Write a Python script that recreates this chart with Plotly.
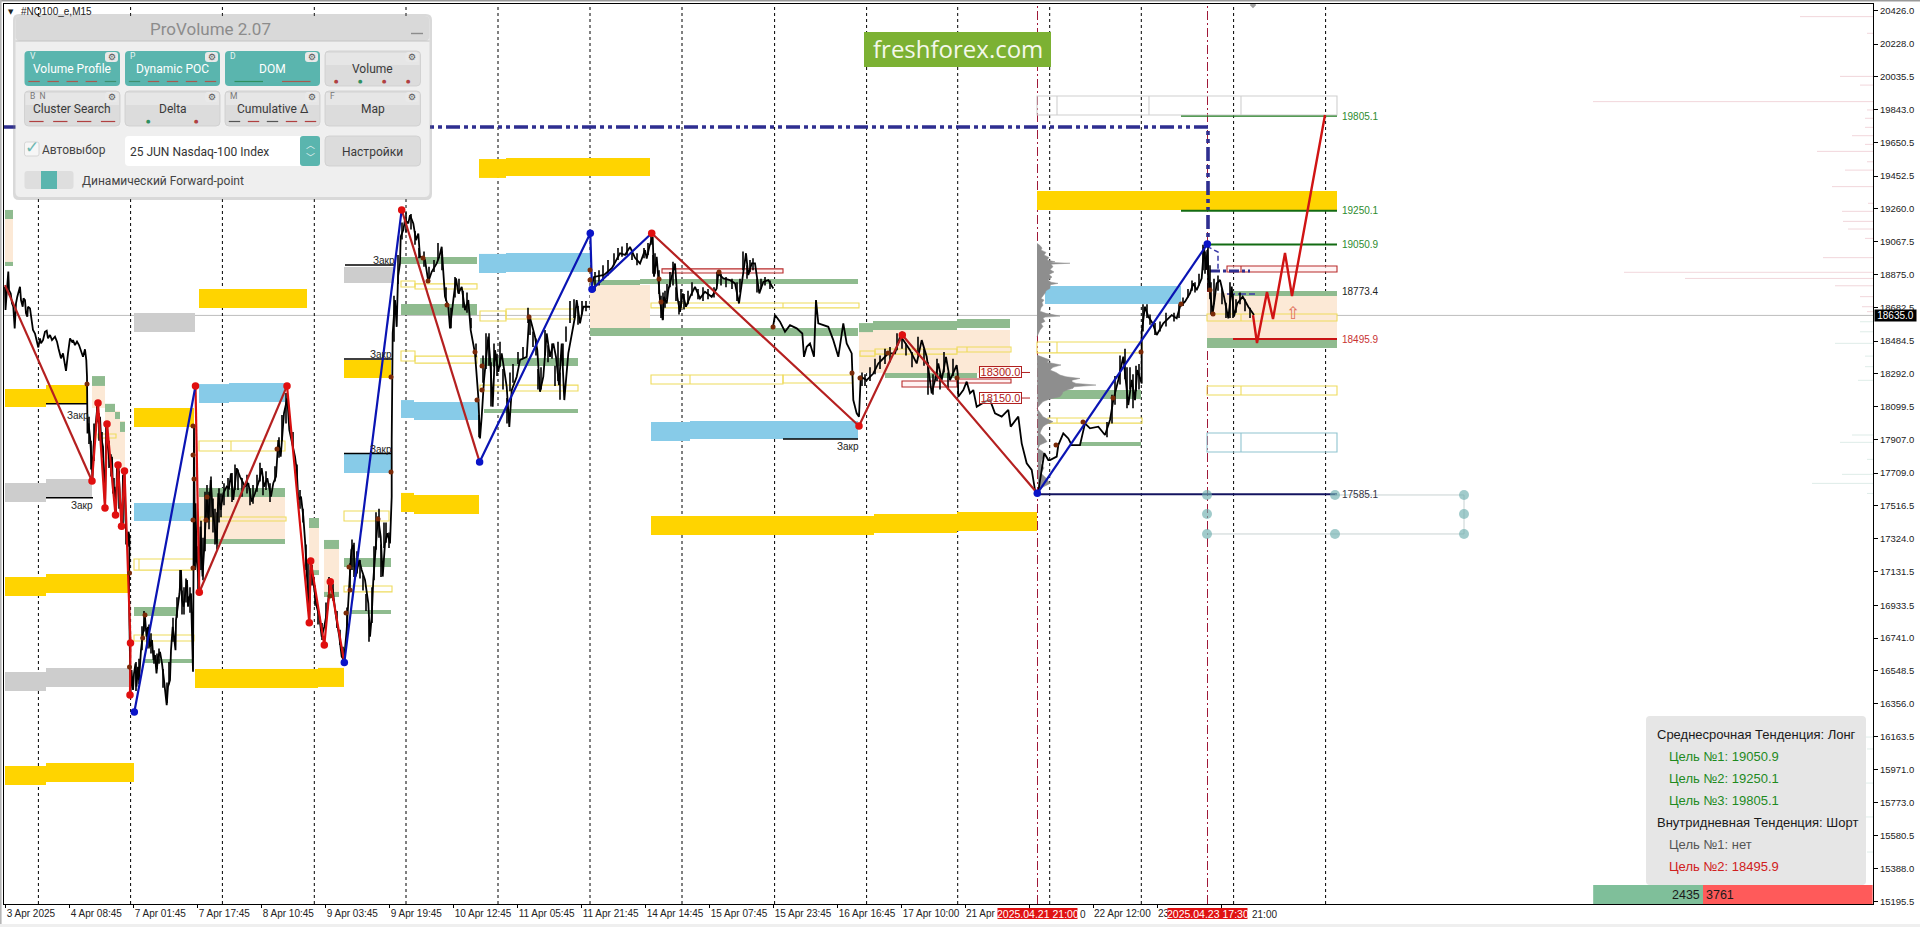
import plotly.graph_objects as go

W, H = 1920, 927
LEFT, RIGHT, TOP, BOTTOM = 4, 1873, 4, 904

# ---------- axes ----------
price_ticks = [20426.0, 20228.0, 20035.5, 19843.0, 19650.5, 19452.5, 19260.0, 19067.5, 18875.0, 18682.5,
               18484.5, 18292.0, 18099.5, 17907.0, 17709.0, 17516.5, 17324.0, 17131.5, 16933.5, 16741.0,
               16548.5, 16356.0, 16163.5, 15971.0, 15773.0, 15580.5, 15388.0, 15195.5]
price_min, price_max = 15180, 20463
time_pos = [5.7, 69.7, 133.7, 197.7, 261.7, 325.7, 389.7, 453.7, 517.7, 581.7, 645.7, 709.7, 773.7, 837.7,
            901.7, 965, 1029, 1093, 1157, 1221]
time_labels = ["3 Apr 2025", "4 Apr 08:45", "7 Apr 01:45", "7 Apr 17:45", "8 Apr 10:45", "9 Apr 03:45",
               "9 Apr 19:45", "10 Apr 12:45", "11 Apr 05:45", "11 Apr 21:45", "14 Apr 14:45", "15 Apr 07:45",
               "15 Apr 23:45", "16 Apr 16:45", "17 Apr 10:00", "21 Apr", "", "22 Apr 12:00", "23", ""]
day_lines = [38.4, 130.6, 222.4, 314.3, 406, 498, 590, 682, 774.6, 866.6, 957.7, 1049.7, 1141.3, 1233.6, 1325.6]
session_lines = [1037.5, 1207.5]
red_times = ["2025.04.21 21:00", "2025.04.23 17:30"]
last_price = 18635.0

# ---------- price line ----------
price_x = [5, 5.5, 8.3, 9, 10.7, 12, 13.3, 14.7, 16, 17.3, 20, 21, 22.7, 23.5, 25, 26, 27.3, 28, 30, 31.7, 33, 35, 36,
           38.3, 40, 41, 43, 45, 46.7, 48, 50, 52, 55, 57, 58.5, 60, 61, 63, 66, 68, 70, 72, 73, 75, 77, 79, 81, 83,
           85, 86.3, 87, 87.5, 88.5, 90, 91.5, 92.5, 93.5, 95, 96, 97.7, 98.5, 100, 101, 103, 104, 105, 105.5, 107,
           108, 110, 112, 113, 114.5, 116, 117, 118.5, 120, 121, 122, 123, 124.5, 125.5, 126.5, 127.5, 128.5, 129.5,
           129, 130, 130.5, 131.5, 133, 134, 135.5, 136.5, 138, 139, 141, 143, 145, 146.5, 148, 150, 152, 153.5,
           155, 156.5, 158, 160, 162, 164, 165.5, 166.7, 168, 170, 171, 172.7, 174, 175.5, 176, 178, 179.5, 181,
           182, 183.5, 185, 187, 188, 189.5, 191, 192, 193, 193.5, 194, 195, 195.5, 196.7, 199, 200.5, 202.5, 204.5,
           206.7, 208.5, 210.7, 212.7, 214.7, 216.7, 218.3, 220.7, 223.3, 226.7, 229, 231, 233.3, 236.7, 240, 245,
           248.3, 251.7, 255, 259.3, 261.7, 264, 267.3, 271, 273.3, 276, 278.3, 280.7, 284, 287.3, 289.3, 292, 295,
           296.7, 298.3, 301, 303.3, 305, 306.7, 309.3, 310.7, 313.3, 316.7, 319.3, 321.7, 324.3, 327.3, 330, 332.7,
           336, 339.3, 341.7, 344, 346.7, 349.3, 351.3, 353.3, 355.7, 359.3, 361.7, 365, 368.3, 370, 371.7, 373.3,
           375.7, 378, 380.7, 382.7, 385, 387.3, 390, 391.7, 391.7, 392.7, 395, 396.7, 398, 400, 400.7, 403.3, 405,
           408.3, 410, 413.3, 416, 418.3, 420, 423.3, 425, 428.3, 431.7, 436.7, 439.3, 441.7, 443.3, 445, 448.3, 450,
           453.3, 456, 458.3, 461.7, 465, 468.3, 470.7, 475, 478.3, 480, 481.7, 484, 488.3, 490, 492.7, 495, 498.3,
           501.7, 506.7, 509.3, 511.7, 516.7, 520, 526.7, 529.3, 531.7, 535, 537.3, 540, 543.3, 546.7, 550, 553.3,
           556, 559, 561.7, 564.3, 568.3, 571.7, 575, 576.7, 580, 583.3, 590, None,
           592, 594, 604, 612, 620, 625, 630, 635, 640, 642.7, 645, 646.7, 649.3, 652.7, 654, 656.7, 658.3, 660,
           662.7, 664, 666.7, 668.3, 671.7, 675, 677.3, 680, 682.7, 686, 690, 695, 700, 705, 711.7, 716.7, 718.3,
           723.3, 730, 735, 739, 741.7, 746, 748.3, 751.7, 755, 759.3, 763.3, 768.3, 773.3, None,
           773, 775, 780, 785, 790, 796.7, 802.3, 804, 806.7, 810, 814, 816, 818.3, 823.3, 828.3, 833.3, 838.3, 843.3,
           846.7, 851.7, 853.3, 856.7, 859, 860.7, 866.7, 873.3, 878.3, 883.3, 888.3, 895, 900, 903.3, 910, 916.7,
           921.7, 926.7, 931.7, 935, 938.3, 941.7, 946, 950, 956.7, 957.7, 958.3, 963.3, 966.7, 970, 973.3, 976.7,
           985, 990, 995, 1001.7, 1008.3, 1010.7, 1018.3, 1021.7, 1026.7, 1031.7, 1035, 1038.3, 1041.7, 1044.3, 1048.3,
           1050, 1056.7, 1058.3, 1063.3, 1068.3, 1071.7, 1080, 1085, 1090, 1098.3, 1105, 1110, 1113.3, 1118.3, 1123.3,
           1128.3, 1131.7, 1135, 1137.3, 1141.7, 1141.7, 1145, 1148.3, 1152.7, 1156.7, 1163.3, 1171.7, 1176.7, 1180,
           1185, 1190, 1193.3, 1196.7, 1201.7, 1204, 1206, 1207.3, 1209.3, 1212.7, 1216.7, 1220, 1224, 1228.3, 1231.7,
           1234, 1237.3, 1242.7, 1248.3, 1254]
price_y = [18804, 18667, 18892, 18784, 18764, 18706, 18686, 18559, 18706, 18745, 18803, 18725, 18686, 18735, 18725, 18647,
           18627, 18686, 18676, 18598, 18549, 18529, 18500, 18447, 18500, 18471, 18490, 18539, 18545, 18500, 18520, 18490,
           18510, 18481, 18441, 18412, 18383, 18412, 18310, 18412, 18500, 18481, 18490, 18461, 18481, 18461, 18422, 18392,
           18436, 18373, 18275, 17942, 18001, 17923, 17786, 17678, 17864, 17962, 18021, 18119, 18001, 18040, 17923, 17864,
           17688, 17512, 17708, 18001, 17864, 17747, 17805, 17590, 17629, 17463, 17747, 17757, 17551, 17434, 17395, 17688,
           17708, 17434, 17316, 17277, 17365, 17336, 17003, 16533, 16416, 16553, 16436, 16533, 16592, 16455, 16572, 16494,
           16670, 16768, 16866, 16749, 16807, 16690, 16729, 16612, 16641, 16533, 16631, 16660, 16592, 16494, 16416, 16347,
           16455, 16494, 16670, 16807, 16749, 16670, 16847, 16944, 17003, 17140, 16964, 16925, 17003, 17081, 16925, 16984,
           17003, 16768, 16543, 17120, 17982, 17141, 17532, 17199, 17062, 17395, 17102, 17297, 17571, 17434, 17669, 17493,
           17395, 17297, 17591, 17493, 17591, 17630, 17620, 17708, 17552, 17738, 17689, 17630, 17650, 17542, 17591, 17669,
           17738, 17630, 17679, 17571, 17650, 17689, 17904, 17806, 18061, 18149, 17963, 17884, 17806, 17728, 17552, 17571,
           17454, 17317, 17121, 16847, 17180, 17062, 16926, 16867, 16749, 16808, 16906, 17062, 17023, 16867, 16749, 16632,
           16612, 16789, 17023, 17258, 17288, 17102, 17200, 17141, 17082, 16945, 16749, 16867, 17082, 17297, 17454, 17336,
           17102, 17297, 17356, 17297, 17571, 17903, 18530, 18725, 18568, 18862, 18940, 19097, 19136, 19195, 19175, 19224,
           19175, 19077, 19116, 18979, 18979, 18960, 18833, 18891, 18940, 18979, 19038, 18891, 18745, 18686, 18559, 18725,
           18852, 18764, 18803, 18666, 18725, 18549, 18412, 18157, 17913, 18040, 18255, 18510, 18392, 18099, 18431, 18304,
           18412, 18216, 17981, 18196, 18275, 18373, 18392, 18637, 18588, 18510, 18431, 18187, 18275, 18529, 18392, 18470,
           18392, 18226, 18470, 18138, 18412, 18529, 18627, 18725, 18588, 18686, 18686, None,
           18814, 18861, 18873, 18913, 19000, 18990, 19037, 18973, 18940, 18989, 19018, 18969, 19038, 19097, 18862, 18979,
           18842, 18725, 18607, 18744, 18705, 18784, 18862, 18940, 18744, 18656, 18764, 18686, 18744, 18803, 18735, 18774,
           18744, 18793, 18881, 18852, 18842, 18823, 18705, 18823, 19000, 18872, 18940, 18940, 18764, 18832, 18842, 18793, None,
           18568, 18637, 18598, 18539, 18578, 18559, 18529, 18392, 18451, 18470, 18392, 18725, 18588, 18578, 18568, 18490,
           18392, 18588, 18470, 18412, 18138, 18060, 18040, 18275, 18255, 18294, 18353, 18382, 18412, 18412, 18510, 18490,
           18431, 18353, 18490, 18392, 18177, 18255, 18353, 18255, 18392, 18255, 18343, 18295, 18158, 18197, 18246, 18178,
           18197, 18099, 18129, 18139, 18060, 18041, 18080, 17982, 18041, 17884, 17767, 17728, 17610, 17600, 17728, 17826,
           17786, 17786, 17806, 17874, 17943, 17913, 17874, 17874, 18001, 17972, 17982, 17933, 18021, 18138, 18256, 18393,
           18109, 18256, 18138, 18314, 18236, 18539, 18686, 18628, 18588, 18520, 18588, 18637, 18618, 18686, 18716, 18765,
           18823, 18784, 18853, 19038, 18902, 19019, 18804, 18647, 18823, 18843, 18745, 18618, 18804, 18628, 18706, 18745,
           18686, 18637]

# bar ranges (low / high) read along the noisy stretches of the price
wick_x_a = [89, 91, 94, 97, 99, 102, 106, 109, 111, 114, 119, 123, 126]
wick_lo_a = [17880, 17730, 17780, 18010, 17900, 17800, 17760, 17740, 17690, 17560, 17500, 17380, 17290]
wick_hi_a = [18040, 17900, 18000, 18130, 18060, 17950, 17990, 17900, 17820, 17680, 17720, 17700, 17420]
wick_x_b = [136, 139, 142, 144, 147, 149, 151, 154, 157, 159, 163, 167, 169, 173, 177, 180, 182, 184, 186, 190]
wick_lo_b = [16430, 16470, 16670, 16780, 16680, 16680, 16650, 16590, 16560, 16590, 16450, 16360, 16470, 16720, 16860, 17020, 16880, 16880, 16950, 16890]
wick_hi_b = [16600, 16620, 16810, 16900, 16800, 16820, 16770, 16670, 16650, 16680, 16560, 16480, 16600, 16860, 16980, 17140, 17020, 17040, 17090, 17040]
wick_x_c = [198, 201, 203, 205, 207, 209, 211, 213, 215, 217, 219, 221, 224, 228, 232, 235, 238, 242, 247, 250, 253, 257, 260, 263, 266, 270, 275, 279, 282, 286]
wick_lo_c = [17020, 17140, 17080, 17250, 17420, 17380, 17450, 17360, 17290, 17260, 17420, 17450, 17520, 17570, 17540, 17610, 17610, 17570, 17590, 17520, 17530, 17600, 17660, 17580, 17610, 17540, 17660, 17800, 17900, 18000]
wick_hi_c = [17280, 17430, 17330, 17600, 17640, 17600, 17690, 17560, 17500, 17480, 17620, 17590, 17650, 17680, 17710, 17760, 17730, 17680, 17700, 17620, 17640, 17700, 17770, 17690, 17720, 17650, 17750, 17920, 18050, 18180]
wick_x_d = [293, 297, 300, 303, 306, 308, 312, 315, 318, 322, 326, 329, 333, 337, 340, 343, 347, 350, 352, 354, 357, 360, 363, 366, 369, 372, 374, 376, 379, 381, 384, 386, 389]
wick_lo_d = [17860, 17600, 17500, 17420, 17140, 16900, 17050, 16930, 16820, 16730, 16850, 17000, 16960, 16800, 16700, 16600, 16780, 17020, 17140, 17100, 17120, 17090, 17020, 16900, 16720, 16830, 17080, 17260, 17330, 17100, 17270, 17300, 17270]
wick_hi_d = [17950, 17760, 17610, 17500, 17290, 17200, 17170, 17050, 16930, 16830, 16950, 17100, 17060, 16900, 16790, 16690, 16920, 17180, 17320, 17300, 17250, 17200, 17110, 17000, 16850, 17040, 17280, 17480, 17500, 17290, 17420, 17420, 17360]
wick_x_e = [394, 398, 402, 406, 411, 415, 419, 424, 429, 434, 438, 442, 446, 451, 455, 459, 463, 467, 471, 476, 479, 483, 486, 489, 491, 494, 497, 500, 503, 507, 510, 513, 518, 523, 528, 530, 533, 536, 538, 541, 545, 548, 552, 555, 558, 560, 563, 566, 570, 574, 578, 582, 586]
wick_lo_e = [18480, 18820, 19080, 19120, 19140, 19050, 18970, 18920, 18830, 18890, 18960, 18900, 18720, 18560, 18740, 18760, 18680, 18650, 18560, 18390, 17920, 18240, 18320, 18340, 18100, 18330, 18280, 18330, 18200, 18000, 18190, 18240, 18350, 18380, 18590, 18520, 18450, 18400, 18200, 18200, 18400, 18360, 18380, 18220, 18250, 18140, 18340, 18480, 18590, 18620, 18580, 18640, 18660]
wick_hi_e = [18750, 18990, 19180, 19240, 19230, 19130, 19030, 19010, 18920, 18960, 19060, 19010, 18800, 18680, 18860, 18850, 18780, 18770, 18620, 18470, 18050, 18400, 18530, 18530, 18360, 18470, 18410, 18480, 18320, 18150, 18300, 18350, 18420, 18450, 18680, 18610, 18540, 18500, 18320, 18330, 18550, 18460, 18470, 18340, 18480, 18300, 18470, 18570, 18720, 18730, 18690, 18720, 18720]
wick_x_f = [595, 599, 603, 608, 614, 618, 622, 627, 632, 637, 644, 648, 651, 653, 655, 659, 661, 663, 665, 667, 670, 673, 676, 679, 681, 684, 688, 692, 698, 703, 708, 714, 717, 721, 726, 732, 737, 740, 743, 747, 750, 753, 757, 761, 765, 770]
wick_lo_f = [18780, 18810, 18840, 18870, 18930, 18960, 18980, 18990, 18960, 18930, 18970, 18990, 19050, 18880, 18880, 18760, 18620, 18610, 18680, 18730, 18800, 18810, 18720, 18640, 18680, 18670, 18700, 18750, 18730, 18720, 18730, 18740, 18810, 18810, 18800, 18790, 18720, 18770, 18900, 18850, 18890, 18900, 18770, 18790, 18810, 18790]
wick_hi_f = [18890, 18900, 18930, 18960, 19000, 19030, 19040, 19060, 19020, 19000, 19030, 19060, 19110, 18990, 19000, 18900, 18750, 18770, 18780, 18820, 18890, 18950, 18800, 18720, 18790, 18760, 18780, 18830, 18790, 18800, 18790, 18800, 18890, 18880, 18860, 18850, 18830, 18850, 19010, 18930, 18960, 18970, 18850, 18850, 18860, 18840]
wick_x_g = [862, 865, 870, 875, 880, 885, 890, 897, 902, 906, 912, 918, 924, 928, 933, 937, 940, 944, 948, 953]
wick_lo_g = [18220, 18220, 18250, 18290, 18320, 18350, 18360, 18430, 18440, 18400, 18330, 18400, 18340, 18170, 18170, 18250, 18200, 18300, 18200, 18280]
wick_hi_g = [18300, 18290, 18330, 18380, 18400, 18440, 18450, 18530, 18540, 18470, 18420, 18510, 18440, 18360, 18290, 18380, 18290, 18420, 18300, 18380]
wick_x_h = [1107, 1112, 1115, 1120, 1125, 1127, 1130, 1133, 1136, 1139]
wick_lo_h = [17920, 18000, 18110, 18230, 18260, 18090, 18200, 18090, 18190, 18200]
wick_hi_h = [18010, 18170, 18280, 18400, 18440, 18330, 18330, 18290, 18340, 18350]
wick_x_i = [1143, 1147, 1150, 1155, 1160, 1166, 1174, 1179, 1183, 1188, 1192, 1195, 1199, 1203, 1205, 1208, 1210, 1211, 1214, 1218, 1222, 1226, 1230, 1233, 1236, 1240, 1245, 1250]
wick_lo_i = [18540, 18620, 18580, 18520, 18540, 18570, 18600, 18620, 18690, 18740, 18780, 18770, 18810, 18900, 18880, 18780, 18730, 18640, 18700, 18780, 18700, 18620, 18620, 18620, 18650, 18700, 18660, 18620]
wick_hi_i = [18700, 18700, 18640, 18590, 18600, 18650, 18650, 18700, 18740, 18790, 18840, 18830, 18880, 19050, 19010, 19050, 18930, 18830, 18850, 18870, 18790, 18710, 18830, 18760, 18730, 18770, 18730, 18680]

swing_dot_x = [87, 129.5, 145, 129.5, 142.7, 193, 193, 193, 194, 193, 207, 206, 277, 391, 391, 378, 349, 350, 346, 330,
               423, 428, 447, 475, 482, 482, 477, 529, 590, 590, 659, 661, 719, 773, 852, 860, 888, 957, 1056, 1083,
               1113, 1141, 1181, 1210, 1213]
swing_dot_y = [18232, 17123, 16876, 16571, 16741, 17152, 17986, 17816, 17675, 17434, 17569, 17434, 17851, 18273, 17716,
               17440, 17158, 17023, 16888, 16988, 18972, 18837, 18696, 18420, 18338, 18197, 18138, 18626, 18902, 18843,
               18849, 18714, 18890, 18567, 18297, 18268, 18414, 18268, 17874, 18009, 18150, 18420, 18702, 18784, 18643]

# ---------- zigzags ----------
dark_zig = [([5, 92], [18813, 17663]), ([199.3, 287], [17010, 18221]), ([401.7, 479.6], [19254, 17775]),
            ([651.7, 859, 902.3, 1037.3], [19117, 17986, 18520, 17591])]
bright_zig = [([92, 98, 105, 107, 115.5, 118, 121.5, 124.5, 130.5, 130], [17663, 18121, 17505, 17998, 17463, 17757, 17398, 17722, 16712, 16407]),
              ([195.5, 199.3], [18221, 17010]),
              ([287, 309.3, 310.7, 324.3, 330.3, 344.3], [18221, 16831, 17193, 16700, 17072, 16597])]
blue_zig = [([134.3, 195.5], [16307, 18221]), ([344.3, 401.7], [16597, 19254]), ([479.6, 590.3, 592, 651.7], [17775, 19117, 18788, 19117]),
            ([1037.3, 1207.3], [17591, 19054])]
red_node_x = [92, 98, 105, 107, 115.5, 118, 121.5, 124.5, 130.5, 130, 195.5, 199.3, 287, 309.3, 310.7, 324.3, 330.3, 401.7, 651.7, 859, 902.3]
red_node_y = [17663, 18121, 17505, 17998, 17463, 17757, 17398, 17722, 16712, 16407, 18221, 17010, 18221, 16831, 17193, 16700, 17072, 19254, 19117, 17986, 18520]
blue_node_x = [134.3, 344.3, 479.6, 590.3, 592, 1037.3, 1207.3]
blue_node_y = [16307, 16597, 17775, 19117, 18788, 17591, 19054]
forecast_x = [1253, 1257, 1267, 1273, 1285, 1292, 1325]
forecast_y = [18637, 18473, 18772, 18614, 19001, 18749, 19811]

# ---------- zones: x0, x1, price0, price1 ----------
gold_zones = [(5, 46, 18203, 18097), (46, 87, 18226, 18121), (5, 46, 17099, 16988), (46, 130, 17117, 17006),
              (5, 46, 15990, 15878), (46, 134, 16008, 15896), (134, 194, 18092, 17980), (195, 318, 16560, 16448),
              (318, 344, 16566, 16454), (344, 391, 18373, 18268), (401, 414, 17593, 17481), (414, 479, 17581, 17469),
              (479, 506, 19553, 19442), (506, 650, 19559, 19453), (199, 307, 18790, 18678), (651, 874, 17458, 17346),
              (874, 957, 17469, 17358), (957, 1037, 17481, 17369), (1037, 1337, 19365, 19254)]
sky_zones = [(134, 194, 17534, 17428), (199, 229, 18232, 18121), (229, 285, 18238, 18127), (344, 391, 17821, 17710),
             (401, 414, 18138, 18033), (414, 478, 18127, 18021), (479, 506, 18996, 18884), (506, 590, 19001, 18890),
             (651, 690, 18009, 17898), (690, 858, 18015, 17910), (1045, 1181, 18808, 18702)]
gray_zones = [(5, 46, 17651, 17540), (46, 92, 17675, 17563), (5, 46, 16542, 16430), (46, 130, 16566, 16454),
              (134, 195, 18649, 18538), (344, 394, 18919, 18825)]
peach_zones = [(5, 13, 19201, 18949), (92, 105, 18221, 18092), (105, 120, 18075, 17790), (120, 125, 18016, 17720),
               (199, 285, 17569, 17323), (309, 319, 17387, 17140), (324, 339, 17264, 17012), (590, 650, 18814, 18561),
               (859, 1010, 18549, 18297), (1207, 1337, 18766, 18503)]
green_zones = [(5, 13, 19254, 19201), (5, 13, 18949, 18925), (92, 105, 18279, 18221), (105, 115, 18116, 18068),
               (115, 120, 18068, 18027), (120, 125, 18010, 17951), (134, 178, 16923, 16870), (144, 192, 16618, 16595),
               (199, 285, 17622, 17569), (204, 285, 17323, 17293), (309, 319, 17446, 17387), (309, 319, 17140, 17111),
               (324, 339, 17317, 17264), (324, 339, 17012, 16982), (344, 391, 17211, 17158), (350, 391, 16906, 16882),
               (401, 477, 18702, 18637), (401, 477, 18978, 18937), (480, 578, 18385, 18338), (484, 578, 18086, 18062),
               (590, 640, 18843, 18814), (640, 858, 18849, 18819), (590, 858, 18561, 18514), (859, 873, 18590, 18537),
               (873, 957, 18602, 18549), (957, 1010, 18614, 18561), (885, 977, 18297, 18268), (1043, 1141, 18197, 18144),
               (1080, 1141, 17892, 17869), (1207, 1337, 18503, 18444), (1233, 1337, 18778, 18749)]
# x0, x1, price0, price1, split x (0 = no split)
yellow_boxes = [(1037, 1142, 18479, 18415, 1057), (1207, 1337, 18221, 18168, 1241), (1207, 1337, 18643, 18602, 1241),
                (1048, 1142, 18033, 18003, 1057), (651, 783, 18285, 18232, 690), (783, 853, 18285, 18238, 0),
                (651, 859, 18708, 18679, 783), (860, 875, 18426, 18396, 0), (875, 957, 18438, 18408, 0),
                (957, 1011, 18450, 18420, 967), (401, 415, 18426, 18367, 0), (415, 477, 18396, 18355, 0),
                (480, 506, 18661, 18602, 0), (506, 575, 18673, 18614, 0), (480, 578, 18226, 18191, 0),
                (401, 415, 18837, 18802, 0), (415, 477, 18820, 18790, 0), (199, 285, 17898, 17839, 231),
                (200, 286, 17452, 17428, 0), (134, 194, 17205, 17140, 139), (134, 194, 16759, 16724, 0),
                (344, 389, 17487, 17428, 0), (344, 392, 17047, 17012, 0), (98, 116, 17939, 17915, 0)]
red_boxes = [(662, 783, 18908, 18884, 0), (902, 957, 18250, 18215, 0), (957, 1011, 18262, 18238, 0), (1227, 1337, 18925, 18890, 1241)]
gray_boxes = [(1037, 1337, 19923, 19811, 1057), (1149, 1149, 19923, 19811, 0), (1241, 1241, 19923, 19811, 0)]
teal_boxes = [(1207, 1337, 17945, 17833, 1241)]

# ---------- target levels ----------
levels_x0 = [1181, 1181, 1207, 1233, 1037]
levels_price = [19805.1, 19250.1, 19050.9, 18495.9, 17585.1]
levels_width = [1.3, 2, 2, 2, 2.2]
levels_color = ["#1F7A1F", "#136B13", "#136B13", "#C81414", "#141460"]
level_end = 1337
label_prices = ["19805.1", "19250.1", "19050.9", "18773.4", "18495.9", "17585.1"]
label_y = [19805.1, 19250.1, 19050.9, 18773.4, 18495.9, 17585.1]
label_colors = ["#2E8B2E", "#2E8B2E", "#2E8B2E", "#222222", "#C83232", "#333344"]
zone_price_labels = [18300.0, 18150.0]
close_lines = [(46, 87, 18116), (46, 93, 17565), (344, 392, 18379), (344, 391, 17824), (345, 394, 18931), (783, 858, 17909)]
close_text = [(78, 18050), (82, 17522), (381, 18408), (381, 17850), (384, 18960), (848, 17868)]

# ---------- volume profile ----------
profile_top_x = [1037, 1040, 1042, 1041, 1046, 1044, 1049, 1047, 1055, 1050, 1070, 1051, 1053, 1050, 1054, 1049, 1052, 1048, 1051, 1058,
                 1050, 1050, 1046, 1045, 1043, 1041, 1044, 1042, 1043, 1041, 1040, 1046, 1060, 1045, 1043, 1045, 1041, 1043, 1040, 1037]
profile_top_y = [19058, 19045, 19030, 19019, 19005, 18990, 18975, 18960, 18950, 18946, 18941, 18936, 18921, 18905, 18890, 18875, 18860, 18843, 18830, 18823,
                 18815, 18794, 18780, 18765, 18750, 18735, 18725, 18710, 18695, 18680, 18660, 18647, 18631, 18625, 18618, 18600, 18588, 18570, 18549, 18510]
profile_low_x = [1037, 1043, 1050, 1047, 1061, 1053, 1050, 1056, 1060, 1066, 1080, 1072, 1072, 1076, 1096, 1074, 1073, 1067, 1063, 1062, 1060, 1050, 1043, 1040,
                 1037, 1040, 1043, 1048, 1053, 1046, 1043, 1041, 1040, 1044, 1047, 1040, 1038, 1043, 1045, 1042, 1041, 1044, 1041, 1046, 1050, 1042, 1038]
profile_low_y = [18402, 18390, 18373, 18360, 18344, 18330, 18314, 18300, 18285, 18275, 18265, 18255, 18246, 18236, 18226, 18216, 18207, 18197, 18187, 18172, 18158, 18145, 18129, 18110,
                 18089, 18065, 18040, 18025, 18011, 17995, 17982, 17960, 17943, 17920, 17894, 17875, 17854, 17835, 17815, 17790, 17766, 17740, 17708, 17680, 17649, 17625, 17600]

# ---------- order book at the right edge ----------
book_red_price = [20389, 20291, 20038, 19987, 19890, 19841, 19792, 19739, 19690, 19639, 19598, 19537, 19488, 19391, 19293, 19246, 19187, 19142, 19087, 18974, 18888, 18852, 18809, 18745, 18686, 18657]
book_red_x = [1800, 1867, 1840, 1860, 1593, 1867, 1865, 1865, 1852, 1865, 1817, 1867, 1845, 1832, 1868, 1842, 1843, 1848, 1865, 1823, 1624, 1685, 1835, 1860, 1862, 1867]
book_green_price = [18598, 18539, 18471, 18396, 18334, 18254, 17933, 17890, 17790, 17702, 17649, 17590, 16160, 16090, 15890, 15691, 15485]
book_green_x = [1860, 1860, 1835, 1865, 1865, 1858, 1852, 1840, 1867, 1842, 1812, 1867, 1855, 1867, 1857, 1850, 1867]

# ---------- misc ----------
trend_dash_x = [4, 1208, 1208]
trend_dash_y = [19741, 19741, 19054]
inner_dash_x = [1207, 1218, 1218]
inner_dash_y = [19040, 19007, 18896]
inner_a_x = [1210, 1250]
inner_a_y = [18896, 18896]
inner_b_x = [1227, 1255]
inner_b_y = [18761, 18761]
handles_x = [1207, 1207, 1207, 1335, 1335, 1464, 1464, 1464]
handles_y = [17581, 17469, 17352, 17581, 17352, 17581, 17469, 17352]
buy_value, sell_value = 2435, 3761
side_title = ["Среднесрочная Тенденция: Лонг", "Цель №1: 19050.9", "Цель №2: 19250.1", "Цель №3: 19805.1",
              "Внутридневная Тенденция: Шорт", "Цель №1: нет", "Цель №2: 18495.9"]
side_colors = ["#1A1A1A", "#1E8A1E", "#1E8A1E", "#1E8A1E", "#1A1A1A", "#555555", "#D02020"]
button_names = [["Volume Profile", "Dynamic POC", "DOM", "Volume"], ["Cluster Search", "Delta", "Cumulative Δ", "Map"]]
button_keys = [["V", "P", "D", ""], ["B  N", "", "M", "F"]]

# ---------- helpers ----------
def px(x):
    return x / W

def py(y):
    return 1 - y / H

shapes = []
ann = []

def zone(rows, fill):
    for x0, x1, p0, p1 in rows:
        shapes.append(dict(type="rect", xref="x", yref="y", x0=x0, x1=x1, y0=p0, y1=p1,
                           fillcolor=fill, line_width=0, layer="below"))

def boxes(rows, color, width=1.1, fill="rgba(0,0,0,0)"):
    for x0, x1, p0, p1, split in rows:
        shapes.append(dict(type="rect", xref="x", yref="y", x0=x0, x1=x1, y0=p0, y1=p1,
                           fillcolor=fill, line=dict(color=color, width=width), layer="below"))
        if split:
            shapes.append(dict(type="line", xref="x", yref="y", x0=split, x1=split, y0=p0, y1=p1,
                               line=dict(color=color, width=width), layer="below"))

def round_rect(x0, y0, x1, y1, r, fill, line=None):
    a, b, c, d = px(x0), py(y0), px(x1), py(y1)
    rx, ry = r / W, r / H
    path = (f"M {a+rx} {b} L {c-rx} {b} Q {c} {b} {c} {b-ry} L {c} {d+ry} Q {c} {d} {c-rx} {d} "
            f"L {a+rx} {d} Q {a} {d} {a} {d+ry} L {a} {b-ry} Q {a} {b} {a+rx} {b} Z")
    shapes.append(dict(type="path", xref="paper", yref="paper", path=path, fillcolor=fill,
                       line=dict(color=line or fill, width=0.8 if line else 0), layer="above"))

def plain_rect(x0, y0, x1, y1, fill):
    shapes.append(dict(type="rect", xref="paper", yref="paper", x0=px(x0), x1=px(x1), y0=py(y1), y1=py(y0),
                       fillcolor=fill, line_width=0, layer="above"))

def stroke(x0, y0, x1, y1, color, width=1.2):
    shapes.append(dict(type="line", xref="paper", yref="paper", x0=px(x0), x1=px(x1), y0=py(y0), y1=py(y1),
                       line=dict(color=color, width=width), layer="above"))

def text(x, y, s, size, color, anchor="left", font="Roboto", **kw):
    ann.append(dict(xref="paper", yref="paper", x=px(x), y=py(y), text=s, showarrow=False, xanchor=anchor,
                    yanchor="middle", font=dict(size=size, color=color, family=font), borderpad=0, **kw))

def data_text(x, p, s, size, color, anchor="left", font="Liberation Sans", **kw):
    ann.append(dict(xref="x", yref="y", x=x, y=p, text=s, showarrow=False, xanchor=anchor, yanchor="middle",
                    font=dict(size=size, color=color, family=font), borderpad=0, **kw))

# ---------- shapes under the price ----------
zone(peach_zones, "#FCE9D6")
zone(gold_zones, "#FFD400")
zone(sky_zones, "#87CBE8")
zone(gray_zones, "#CDCDCD")
zone(green_zones, "#8FBB8F")
boxes(yellow_boxes, "#EEDB5C")
boxes(red_boxes, "#B82A2A", 1.1, "rgba(255,235,235,0.6)")
boxes(gray_boxes, "#CFCFCF")
boxes(teal_boxes, "#8FC4CF")

shapes.append(dict(type="line", xref="paper", yref="y", x0=px(LEFT), x1=px(RIGHT), y0=last_price, y1=last_price,
                   line=dict(color="#BDBDBD", width=1), layer="below"))
for xv in day_lines:
    shapes.append(dict(type="line", xref="x", yref="paper", x0=xv, x1=xv, y0=py(BOTTOM), y1=py(TOP),
                       line=dict(color="#000000", width=1, dash="3px,3px"), layer="below"))
for xv in session_lines:
    shapes.append(dict(type="line", xref="x", yref="paper", x0=xv, x1=xv, y0=py(BOTTOM), y1=py(TOP),
                       line=dict(color="#A01838", width=1, dash="9px,3px,2px,3px"), layer="below"))
for x0, x1, p in close_lines:
    shapes.append(dict(type="line", xref="x", yref="y", x0=x0, x1=x1, y0=p, y1=p,
                       line=dict(color="#000000", width=1.5), layer="below"))

# ---------- traces ----------
fig = go.Figure()

def line(x, y, color, width, dash=None, name=""):
    fig.add_trace(go.Scatter(x=x, y=y, mode="lines", name=name, hoverinfo="skip",
                             line=dict(color=color, width=width, dash=dash)))

def gapped(xs, ys, base):
    gx, gy = [], []
    for xv, yv in zip(xs, ys):
        gx += [xv, base, None]
        gy += [yv, yv, None]
    return gx, gy

rx, ry = gapped(book_red_x, book_red_price, RIGHT)
line(rx, ry, "rgba(190,70,90,0.22)", 1, name="book asks")
gx, gy = gapped(book_green_x, book_green_price, RIGHT)
line(gx, gy, "rgba(70,150,130,0.18)", 1, name="book bids")

for xs, ys in [(profile_top_x, profile_top_y), (profile_low_x, profile_low_y)]:
    fig.add_trace(go.Scatter(x=xs, y=ys, mode="lines", fill="toself", fillcolor="#8E8E8E", hoverinfo="skip",
                             line=dict(color="#8E8E8E", width=0.5), name="profile"))

line(trend_dash_x, trend_dash_y, "#2E2E90", 3.6, "14px,4px,4px,4px,4px,4px", "trend")
line(inner_dash_x, inner_dash_y, "#3A3AA8", 1.5, "5px,3px", "inner")
line(inner_a_x, inner_a_y, "#2E2E90", 3, "10px,3px,3px,3px", "inner")
line(inner_b_x, inner_b_y, "#3A3AA8", 1.5, "8px,3px", "inner")

for x0, p, w, c in zip(levels_x0, levels_price, levels_width, levels_color):
    line([x0, level_end], [p, p], c, w, name="level")

line([handles_x[3], handles_x[5]], [handles_y[3], handles_y[5]], "#C8D2D2", 1, name="grid")
line([handles_x[2], handles_x[7]], [handles_y[2], handles_y[7]], "#C8D2D2", 1, name="grid")
line([handles_x[5], handles_x[7]], [handles_y[5], handles_y[7]], "#C8D2D2", 1, name="grid")
fig.add_trace(go.Scatter(x=handles_x, y=handles_y, mode="markers", hoverinfo="skip", name="handles",
                         marker=dict(color="rgba(110,175,175,0.65)", size=10)))

line(price_x, price_y, "#000000", 1.8, name="price")
wick_sets = [(wick_x_a, wick_lo_a, wick_hi_a), (wick_x_b, wick_lo_b, wick_hi_b), (wick_x_c, wick_lo_c, wick_hi_c),
             (wick_x_d, wick_lo_d, wick_hi_d), (wick_x_e, wick_lo_e, wick_hi_e), (wick_x_f, wick_lo_f, wick_hi_f),
             (wick_x_g, wick_lo_g, wick_hi_g), (wick_x_h, wick_lo_h, wick_hi_h), (wick_x_i, wick_lo_i, wick_hi_i)]
wx, wy = [], []
for xs, los, his in wick_sets:
    for xv, lo, hi in zip(xs, los, his):
        wx += [xv, xv, None]
        wy += [lo, hi, None]
line(wx, wy, "#000000", 1.6, name="price range")

for xs, ys in dark_zig:
    line(xs, ys, "#B52020", 2.2, name="swing")
for xs, ys in bright_zig:
    line(xs, ys, "#D81010", 2.2, name="swing")
for xs, ys in blue_zig:
    line(xs, ys, "#0A14B4", 2.2, name="swing")
line(forecast_x, forecast_y, "#D01414", 2.4, name="forecast")
fig.add_trace(go.Scatter(x=swing_dot_x, y=swing_dot_y, mode="markers", hoverinfo="skip", name="swing dots",
                         marker=dict(color="#7A2A08", size=5)))
fig.add_trace(go.Scatter(x=red_node_x, y=red_node_y, mode="markers", hoverinfo="skip", name="nodes",
                         marker=dict(color="#E00F0F", size=7.5)))
fig.add_trace(go.Scatter(x=blue_node_x, y=blue_node_y, mode="markers", hoverinfo="skip", name="nodes",
                         marker=dict(color="#0A14C8", size=7.5)))
fig.add_trace(go.Scatter(x=[1253], y=[20457], mode="markers", hoverinfo="skip", name="marker",
                         marker=dict(color="#A0A0A0", size=5, symbol="diamond")))

# ---------- chart texts ----------
for s, p, c in zip(label_prices, label_y, label_colors):
    data_text(1341, p, s, 10, c)
for (x, p) in close_text:
    data_text(x, p, "Закр", 10, "#222222", "center")
for p in zone_price_labels:
    data_text(1000, p, f"{p:.1f}", 11, "#B02020", "center", bordercolor="#B02020", borderwidth=1,
              bgcolor="rgba(255,255,255,0.5)", width=41, height=10)
    shapes.append(dict(type="line", xref="x", yref="y", x0=1021, x1=1030, y0=p, y1=p, line=dict(color="#B02020", width=1)))
data_text(1293, 18649, "⇧", 17, "#E0705A", "center", font="DejaVu Sans")
text(20, 12, "#NQ100_e,M15", 10, "#222222", font="Liberation Sans")
text(11, 12, "▼", 7, "#222222", "center", font="DejaVu Sans")

# current price tag
ann.append(dict(xref="paper", yref="y", x=px(1874), y=last_price, text=f"{last_price:.1f}", showarrow=False,
                xanchor="left", yanchor="middle", bgcolor="#000000", width=41, height=11, borderpad=0,
                font=dict(size=10, color="#FFFFFF", family="Liberation Sans")))

# red date stickers and the bits of axis text they leave showing
for xv, s in zip(session_lines, red_times):
    plain_rect(xv - 40, 908, xv + 40, 919, "#E01212")
    text(xv, 913.5, s, 10.5, "#FFFFFF", "center", font="Liberation Sans")
text(1079, 914, "0", 10, "#222222", font="Liberation Sans")
text(1251, 914, "21:00", 10, "#222222", font="Liberation Sans")

# brand
plain_rect(864, 32, 1051, 67, "#7CB133")
text(957.5, 49, "freshforex.com", 24, "#F4F8EA", "center", font="Open Sans")

# ---------- ProVolume panel ----------
round_rect(13, 14, 432, 200, 6, "rgba(120,120,120,0.28)")
round_rect(15.5, 16, 429.5, 197, 5, "#EFEFEF")
round_rect(15.5, 16, 429.5, 41, 5, "#D9D9D9")
stroke(15.5, 41, 429.5, 41, "#C4C4C4", 1)
text(210.5, 29, "ProVolume 2.07", 17, "#8C8C8C", "center")
stroke(411, 33.5, 423, 33.5, "#8C8C8C", 1.4)

cols = [(24.5, 120), (125, 220), (225, 320), (325, 420.5)]
rows = [(51, 86), (91, 126)]
dash_sets = {(0, 0): ["#A85A50"] * 4 + ["#3F8F6F"], (0, 1): ["#3F8F6F"] + ["#A85A50"] * 4, (0, 2): ["#2F8F5F", "#A85A50"],
             (1, 0): ["#B04040"] * 4, (1, 2): ["#555555", "#B04040", "#555555", "#B04040", "#B04040"]}
dot_sets = {(0, 3): ["#B04040", "#2F8F5F", "#B04040", "#B04040"], (1, 1): ["#2F8F5F", "#B04040"]}
for ri, (y0, y1) in enumerate(rows):
    for ci, (x0, x1) in enumerate(cols):
        teal = ri == 0 and ci < 3
        round_rect(x0, y0, x1, y1, 4, "#5AB5AE" if teal else "#DCDCDC", None if teal else "#CDCDCD")
        if not teal:
            plain_rect(x0 + 1, y0 + 2, x1 - 1, y0 + 14, "#E6E6E6")
        text((x0 + x1) / 2, y0 + 18, button_names[ri][ci], 12, "#FFFFFF" if teal else "#3A3A3A", "center")
        if button_keys[ri][ci]:
            text(x0 + 4, y0 + 5, button_keys[ri][ci], 8.5, "#E8F4F3" if teal else "#777777")
        round_rect(x1 - 15, y0 + 1, x1 - 2, y0 + 11, 3, "#E9E9E9")
        text(x1 - 8.5, y0 + 5.5, "⚙", 9, "#555555", "center", font="DejaVu Sans")
        if (ri, ci) in dash_sets:
            seq = dash_sets[(ri, ci)]
            step = (x1 - x0) / len(seq)
            for i, c in enumerate(seq):
                stroke(x0 + step * i + step * 0.2, y1 - 4.5, x0 + step * (i + 1) - step * 0.2, y1 - 4.5, c, 1.2)
        if (ri, ci) in dot_sets:
            seq = dot_sets[(ri, ci)]
            step = (x1 - x0) / len(seq)
            for i, c in enumerate(seq):
                text(x0 + step * (i + 0.5), y1 - 4.5, "●", 5, c, "center", font="DejaVu Sans")

round_rect(24.5, 142, 39, 156, 2, "#F6F6F6", "#CFCFCF")
text(32, 147, "✓", 17, "#6FB8B2", "center", font="DejaVu Sans")
text(41, 150, "Автовыбор", 12, "#444444")
round_rect(125, 136, 320, 166, 4, "#FFFFFF")
round_rect(300, 136, 320, 166, 3, "#5AB5AE")
text(310, 145, "︿", 9, "#E8F4F3", "center", font="Noto Sans CJK SC")
text(310, 157, "﹀", 9, "#E8F4F3", "center", font="Noto Sans CJK SC")
text(129, 152, "25 JUN Nasdaq-100 Index", 12, "#333333")
round_rect(325, 136, 420.5, 166, 4, "#DCDCDC", "#CDCDCD")
text(372.5, 152, "Настройки", 12, "#3A3A3A", "center")
round_rect(24.5, 171, 73.5, 189, 3, "#DEDEDE")
plain_rect(41, 171, 57, 189, "#5AB5AE")
text(81, 181, "Динамический Forward-point", 12, "#444444")

# ---------- side panel ----------
round_rect(1646, 716, 1866, 885, 4, "#E6E6E6")
side_y = [734, 756, 778, 800, 822, 844, 866]
side_x = [1656, 1668, 1668, 1668, 1656, 1668, 1668]
for xv, yv, s, c in zip(side_x, side_y, side_title, side_colors):
    text(xv, yv, s, 13, c, font="Liberation Sans")

# buy / sell bar scaled from its two values
split_x = 1703
bar_scale = 0.0451
plain_rect(split_x - buy_value * bar_scale, 885, split_x, 904, "#7FBF9A")
plain_rect(split_x, 885, split_x + sell_value * bar_scale, 904, "#FF5A5A")
text(split_x - 2, 895, str(buy_value), 12.5, "#1A1A1A", "right", font="Liberation Sans")
text(split_x + 2, 895, str(sell_value), 12.5, "#1A1A1A", "left", font="Liberation Sans")

# window edges
plain_rect(0, 0, W, 1.6, "#9A9A9A")
plain_rect(0, 0, 1.6, H, "#B5B5B5")
plain_rect(0, 924, W, H, "#EFEFEF")

# ---------- layout ----------
fig.update_layout(
    width=W, height=H, margin=dict(l=0, r=0, t=0, b=0, pad=0, autoexpand=False), showlegend=False,
    paper_bgcolor="#FFFFFF", plot_bgcolor="#FFFFFF", hovermode=False,
    shapes=shapes, annotations=ann,
    xaxis=dict(domain=[px(LEFT), px(RIGHT)], range=[LEFT, RIGHT], tickmode="array", tickvals=time_pos,
               ticktext=time_labels, ticks="outside", ticklen=3, tickcolor="#000000", tickwidth=1, automargin=False,
               ticklabelposition="outside right", ticklabelstandoff=0, showgrid=False, zeroline=False, showline=True,
               linecolor="#000000", linewidth=1, mirror=True, tickangle=0,
               tickfont=dict(size=10, family="Liberation Sans", color="#222222")),
    yaxis=dict(domain=[py(BOTTOM), py(TOP)], range=[price_min, price_max], side="right", tickmode="array",
               tickvals=price_ticks, ticktext=[f"{v:.1f}" for v in price_ticks], ticks="outside", ticklen=4,
               automargin=False, tickcolor="#000000", showgrid=False, zeroline=False, showline=True,
               linecolor="#000000", linewidth=1, mirror=True,
               tickfont=dict(size=9.5, family="Liberation Sans", color="#222222")),
)

fig.write_html(
    "out.html",
    config={"displayModeBar": False},
    post_script=("var r=document.documentElement,b=document.body;"
                 "r.style.margin='0';r.style.height='927px';r.style.overflow='hidden';"
                 "b.style.margin='0';b.style.height='927px';b.style.overflow='hidden';"
                 "if(b.firstElementChild){b.firstElementChild.style.height='927px';b.firstElementChild.style.overflow='hidden';}"),
)
